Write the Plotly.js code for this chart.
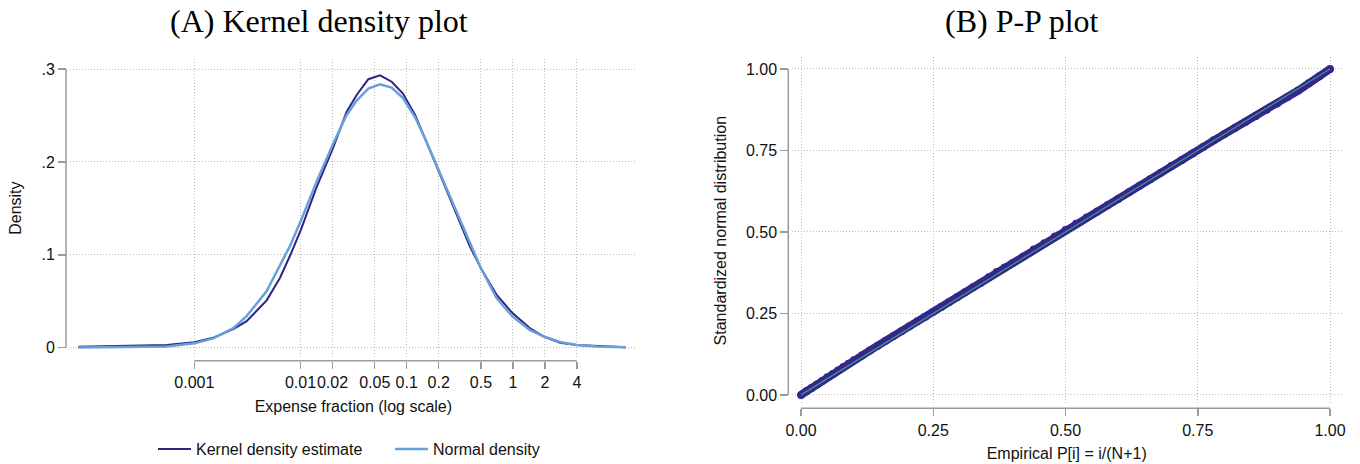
<!DOCTYPE html>
<html>
<head>
<meta charset="utf-8">
<script src="https://cdn.plot.ly/plotly-3.0.1.min.js"></script>
<style>
  html, body { margin: 0; padding: 0; background: #fff; }
  #chart { width: 1360px; height: 464px; }
</style>
</head>
<body>
<div id="chart"></div>
<script>
// ---- Panel A: density of the expense fraction (log x axis) ----
const expenseFraction = [0.0000809, 0.000161, 0.000267, 0.00055, 0.001, 0.00151, 0.00233, 0.00311,
  0.0048, 0.0064, 0.008, 0.0101, 0.0142, 0.0204, 0.0272, 0.0338, 0.0435, 0.0561, 0.0722,
  0.0918, 0.12, 0.154, 0.198, 0.275, 0.395, 0.5, 0.704, 0.996, 1.45, 1.98, 2.78, 3.99, 6.15, 11.6];
const kernelDensity = [0.0010, 0.0015, 0.0018, 0.0028, 0.0060, 0.0108, 0.0200, 0.0285,
  0.0510, 0.0750, 0.0995, 0.1270, 0.1730, 0.2160, 0.2540, 0.2720, 0.2890, 0.2932, 0.2863,
  0.2738, 0.2505, 0.2218, 0.1913, 0.1518, 0.1087, 0.0855, 0.0567, 0.0370, 0.0209, 0.0118,
  0.0054, 0.0029, 0.0018, 0.0006];
const normalDensity = [0.0001, 0.0003, 0.0005, 0.0012, 0.0047, 0.0100, 0.0210, 0.0340,
  0.0610, 0.0880, 0.1100, 0.1370, 0.1790, 0.2200, 0.2505, 0.2660, 0.2790, 0.2835, 0.2800,
  0.2690, 0.2480, 0.2215, 0.1925, 0.1550, 0.1120, 0.0855, 0.0532, 0.0334, 0.0190, 0.0118,
  0.0061, 0.0029, 0.0012, 0.0004];
const densityXTicks = [0.001, 0.01, 0.02, 0.05, 0.1, 0.2, 0.5, 1, 2, 4];
const densityXLabels = ['0.001', '0.01', '0.02', '0.05', '0.1', '0.2', '0.5', '1', '2', '4'];
const densityYTicks = [0, 0.1, 0.2, 0.3];
const densityYLabels = ['0', '.1', '.2', '.3'];

// ---- Panel B: P-P plot against the standardized normal ----
const empiricalP = [0.000, 0.010, 0.020, 0.030, 0.040, 0.050, 0.060, 0.070, 0.080, 0.090,
  0.100, 0.115, 0.130, 0.145, 0.160, 0.175, 0.190, 0.205, 0.220, 0.235, 0.250, 0.265,
  0.280, 0.295, 0.310, 0.325, 0.340, 0.355, 0.370, 0.385, 0.400, 0.420, 0.440, 0.460,
  0.480, 0.500, 0.520, 0.540, 0.560, 0.580, 0.600, 0.620, 0.640, 0.660, 0.680, 0.700,
  0.720, 0.740, 0.760, 0.780, 0.800, 0.820, 0.840, 0.860, 0.880, 0.900, 0.920, 0.940,
  0.960, 0.980, 1.000];
const normalP = [0.000, 0.011, 0.021, 0.032, 0.043, 0.054, 0.064, 0.075, 0.086, 0.096,
  0.106, 0.121, 0.136, 0.151, 0.166, 0.181, 0.195, 0.211, 0.226, 0.240, 0.255, 0.270,
  0.285, 0.300, 0.315, 0.330, 0.344, 0.361, 0.377, 0.391, 0.405, 0.425, 0.446, 0.465,
  0.486, 0.506, 0.525, 0.544, 0.563, 0.583, 0.602, 0.622, 0.642, 0.662, 0.682, 0.702,
  0.721, 0.741, 0.761, 0.781, 0.800, 0.819, 0.837, 0.856, 0.875, 0.894, 0.914, 0.934,
  0.956, 0.978, 1.000];
const diagonal = [0, 1];
const ppTicks = [0, 0.25, 0.5, 0.75, 1];

// ---- styling ----
const W = 1360, H = 464;
const px = v => v / W;          // pixel column -> paper x
const py = v => 1 - v / H;      // pixel row -> paper y
const SANS = 'Liberation Sans, Arial, sans-serif';
const SERIF = 'Liberation Serif, Times New Roman, serif';
const AXIS_GRAY = '#9a9a9a';
const GRID_GRAY = '#bdbdbd';
const DARK = '#2f2481';
const LIGHT = '#69a0da';
const PP_BLUE = '#33268c';
const TEAL = '#43937f';
const TEXT = { family: SANS, size: 16, color: '#111' };

const commonAxis = {
  showline: false, zeroline: false, showgrid: true,
  gridcolor: GRID_GRAY, gridwidth: 1, griddash: '1px,2px',
  ticks: 'outside', tickcolor: AXIS_GRAY, tickwidth: 1.5, tickangle: 0,
  tickfont: TEXT, fixedrange: true
};

const traces = [
  {
    x: expenseFraction, y: kernelDensity, xaxis: 'x', yaxis: 'y',
    type: 'scatter', mode: 'lines', name: 'Kernel density estimate',
    line: { color: DARK, width: 2 }, legend: 'legend'
  },
  {
    x: expenseFraction, y: normalDensity, xaxis: 'x', yaxis: 'y',
    type: 'scatter', mode: 'lines', name: 'Normal density',
    line: { color: LIGHT, width: 2.5 }, legend: 'legend2'
  },
  {
    x: empiricalP, y: normalP, xaxis: 'x2', yaxis: 'y2',
    type: 'scatter', mode: 'lines+markers', showlegend: false,
    line: { color: PP_BLUE, width: 8 },
    marker: { color: PP_BLUE, size: 8 }
  },
  {
    x: diagonal, y: diagonal, xaxis: 'x2', yaxis: 'y2',
    type: 'scatter', mode: 'lines', showlegend: false,
    line: { color: TEAL, width: 1.3 }
  }
];

const axisLine = { color: AXIS_GRAY, width: 1.5 };
const legendBase = {
  orientation: 'h', xanchor: 'left', yanchor: 'middle', itemwidth: 33,
  bgcolor: 'rgba(0,0,0,0)', borderwidth: 0, font: TEXT
};

const layout = {
  width: W, height: H,
  margin: { l: 0, r: 0, t: 0, b: 0, autoexpand: false },
  paper_bgcolor: '#fff', plot_bgcolor: '#fff',
  font: TEXT,
  xaxis: Object.assign({}, commonAxis, {
    type: 'log', domain: [px(70), px(636.7)], range: [-4.1704, 1.1657],
    anchor: 'free', position: py(360.7),
    tickmode: 'array', tickvals: densityXTicks, ticktext: densityXLabels, ticklen: 7,
    title: { text: 'Expense fraction (log scale)', font: TEXT, standoff: 10 }
  }),
  yaxis: Object.assign({}, commonAxis, {
    domain: [py(357), py(59.3)], range: [-0.0100, 0.31044],
    anchor: 'free', position: px(66),
    tickmode: 'array', tickvals: densityYTicks, ticktext: densityYLabels, ticklen: 8,
    title: { text: 'Density', font: TEXT, standoff: 14 }
  }),
  xaxis2: Object.assign({}, commonAxis, {
    domain: [px(791.7), px(1341.7)], range: [-0.0176, 1.0221],
    anchor: 'free', position: py(408.3),
    tickmode: 'array', tickvals: ppTicks, tickformat: '.2f', ticklen: 7,
    title: { text: 'Empirical P[i] = i/(N+1)', font: TEXT, standoff: 10 }
  }),
  yaxis2: Object.assign({}, commonAxis, {
    domain: [py(404.6), py(56.7)], range: [-0.0297, 1.0377],
    anchor: 'free', position: px(788.3),
    tickmode: 'array', tickvals: ppTicks, tickformat: '.2f', ticklen: 8,
    title: { text: 'Standardized normal distribution', font: TEXT, standoff: 14 }
  }),
  legend: Object.assign({}, legendBase, { x: px(153), y: py(449) }),
  legend2: Object.assign({}, legendBase, { x: px(390), y: py(449) }),
  shapes: [
    // axis lines span only the labelled tick range
    { type: 'line', xref: 'x', yref: 'paper', x0: 0.001, x1: 4, y0: py(360.7), y1: py(360.7), line: axisLine },
    { type: 'line', xref: 'paper', yref: 'y', x0: px(66), x1: px(66), y0: 0, y1: 0.3, line: axisLine },
    { type: 'line', xref: 'x2', yref: 'paper', x0: 0, x1: 1, y0: py(408.3), y1: py(408.3), line: axisLine },
    { type: 'line', xref: 'paper', yref: 'y2', x0: px(788.3), x1: px(788.3), y0: 0, y1: 1, line: axisLine }
  ],
  annotations: [
    { text: '(A) Kernel density plot', xref: 'paper', yref: 'paper', x: px(319), y: py(21),
      xanchor: 'center', yanchor: 'middle', showarrow: false,
      font: { family: SERIF, size: 32, color: '#000' } },
    { text: '(B) P-P plot', xref: 'paper', yref: 'paper', x: px(1021.7), y: py(21),
      xanchor: 'center', yanchor: 'middle', showarrow: false,
      font: { family: SERIF, size: 32, color: '#000' } }
  ]
};

Plotly.newPlot('chart', traces, layout, { displayModeBar: false, staticPlot: true });
</script>
</body>
</html>
